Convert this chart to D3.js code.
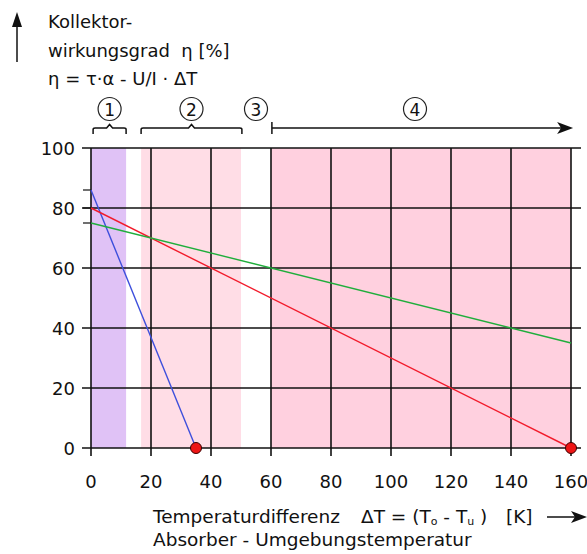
<!DOCTYPE html>
<html>
<head>
<meta charset="utf-8">
<script src="https://cdn.jsdelivr.net/npm/d3@7"></script>
<style>
  html, body { margin: 0; padding: 0; background: #fff; }
  svg text { font-family: "DejaVu Sans", sans-serif; fill: #111; }
</style>
</head>
<body>
<div id="graphicContainer"></div>
<script>
// axis ticks
const xTicks = [0, 20, 40, 60, 80, 100, 120, 140, 160];
const yTicks = [0, 20, 40, 60, 80, 100];

// operating zones (in K)
const zoneStart = [0, 16.7, 60];
const zoneEnd = [11.7, 50, 160];

// collector curves: value at dT=0 and end point
const curveNames = ['unglazed', 'flat', 'tube'];
const curveX0 = [0, 0, 0];
const curveY0 = [86, 80, 75];
const curveX1 = [35, 160, 160];
const curveY1 = [0, 0, 35];

// stagnation points
const stagX = [35, 160];
const stagY = [0, 0];

// zone markers above the plot
const markerLabels = ['1', '2', '3', '4'];
const markerX = [6.2, 33.5, 55, 108];
const braceFrom = [0.7, 16.7];
const braceTo = [11.7, 50.3];
const arrowFrom = 60.3, arrowTo = 160.7;

const zoneColors = ['#e0c2f6', '#ffdde6', '#ffd0df'];
const curveColors = ['#3d4fdc', '#f21c2c', '#1fae3c'];
const gridColor = '#111';

const Width = 587, Height = 554;
const svg = d3.select('#graphicContainer').append('svg')
  .attr('width', Width)
  .attr('height', Height);

const x = d3.scaleLinear().domain([0, 160]).range([91, 571]);
const y = d3.scaleLinear().domain([0, 100]).range([448, 148]);

// zones
svg.append('g').selectAll('rect')
  .data(zoneStart)
  .enter().append('rect')
  .attr('x', d => x(d))
  .attr('y', y(100))
  .attr('width', (d, i) => x(zoneEnd[i]) - x(d))
  .attr('height', y(0) - y(100))
  .attr('fill', (d, i) => zoneColors[i]);

// grid
const grid = svg.append('g');
grid.selectAll('.vl')
  .data(xTicks)
  .enter().append('line')
  .attr('class', 'vl')
  .attr('x1', d => x(d)).attr('x2', d => x(d))
  .attr('y1', y(100)).attr('y2', y(0) + 8)
  .attr('stroke', gridColor).attr('stroke-width', 1.6);
grid.selectAll('.hl')
  .data(yTicks)
  .enter().append('line')
  .attr('class', 'hl')
  .attr('x1', x(0) - 9).attr('x2', x(160) + 10)
  .attr('y1', d => y(d)).attr('y2', d => y(d))
  .attr('stroke', gridColor).attr('stroke-width', 1.6);

// small ticks at the curve intercepts
grid.selectAll('.it')
  .data(curveY0)
  .enter().append('line')
  .attr('x1', x(0) - 8).attr('x2', x(0))
  .attr('y1', d => y(d)).attr('y2', d => y(d))
  .attr('stroke', gridColor).attr('stroke-width', 1.2);

// tick labels
svg.append('g').selectAll('text')
  .data(yTicks)
  .enter().append('text')
  .attr('x', 75)
  .attr('y', d => y(d) + 7)
  .attr('text-anchor', 'end')
  .style('font-size', '18px')
  .text(d => d);
svg.append('g').selectAll('text')
  .data(xTicks)
  .enter().append('text')
  .attr('x', d => x(d))
  .attr('y', 488)
  .attr('text-anchor', 'middle')
  .style('font-size', '18px')
  .text(d => d);

// curves
svg.append('g').selectAll('line')
  .data(curveNames)
  .enter().append('line')
  .attr('x1', (d, i) => x(curveX0[i]))
  .attr('y1', (d, i) => y(curveY0[i]))
  .attr('x2', (d, i) => x(curveX1[i]))
  .attr('y2', (d, i) => y(curveY1[i]))
  .attr('stroke', (d, i) => curveColors[i])
  .attr('stroke-width', 1.4);

// stagnation dots
svg.append('g').selectAll('circle')
  .data(stagX)
  .enter().append('circle')
  .attr('cx', d => x(d))
  .attr('cy', (d, i) => y(stagY[i]))
  .attr('r', 5.5)
  .attr('fill', '#ee1515')
  .attr('stroke', '#3a0000')
  .attr('stroke-width', 1);

// zone markers
const mk = svg.append('g');
mk.selectAll('circle')
  .data(markerLabels)
  .enter().append('circle')
  .attr('cx', (d, i) => x(markerX[i]))
  .attr('cy', 109)
  .attr('r', 11.5)
  .attr('fill', 'none')
  .attr('stroke', '#222')
  .attr('stroke-width', 1.2);
mk.selectAll('text')
  .data(markerLabels)
  .enter().append('text')
  .attr('x', (d, i) => x(markerX[i]))
  .attr('y', 115.5)
  .attr('text-anchor', 'middle')
  .style('font-size', '17px')
  .text(d => d);

// braces
mk.selectAll('path')
  .data(braceFrom)
  .enter().append('path')
  .attr('d', (d, i) => {
    const a = x(d), b = x(braceTo[i]), c = (a + b) / 2;
    return `M${a},134 L${a},129.5 Q${a},128 ${a + 2},128 L${c - 3},128 L${c},124.5 L${c + 3},128 L${b - 2},128 Q${b},128 ${b},129.5 L${b},134`;
  })
  .attr('fill', 'none')
  .attr('stroke', '#111')
  .attr('stroke-width', 1.5);

// zone 4 arrow
mk.append('line')
  .attr('x1', x(arrowFrom)).attr('x2', x(arrowTo) - 6)
  .attr('y1', 128).attr('y2', 128)
  .attr('stroke', '#111').attr('stroke-width', 1.5);
mk.append('line')
  .attr('x1', x(arrowFrom)).attr('x2', x(arrowFrom))
  .attr('y1', 122).attr('y2', 134)
  .attr('stroke', '#111').attr('stroke-width', 1.5);
mk.append('path')
  .attr('d', `M${x(arrowTo) - 16},122 L${x(arrowTo)},128 L${x(arrowTo) - 16},134 L${x(arrowTo) - 12},128 Z`)
  .attr('fill', '#111');

// y axis title
const yt = svg.append('g');
yt.append('line')
  .attr('x1', 17).attr('x2', 17)
  .attr('y1', 22).attr('y2', 62)
  .attr('stroke', '#111').attr('stroke-width', 1.5);
yt.append('path')
  .attr('d', 'M17,12 L22,27 L12,27 Z')
  .attr('fill', '#111');
const titleLines = ['Kollektor-', 'wirkungsgrad  η [%]', 'η = τ·α - U/I · ΔT'];
yt.selectAll('text')
  .data(titleLines)
  .enter().append('text')
  .attr('x', 48)
  .attr('y', (d, i) => 28 + i * 28.5)
  .style('font-size', '18px')
  .attr('xml:space', 'preserve')
  .text(d => d);

// x axis title
const xt = svg.append('g');
const t1 = xt.append('text')
  .attr('y', 523)
  .style('font-size', '18.5px')
  .attr('xml:space', 'preserve');
t1.append('tspan').attr('x', 153).text('Temperaturdifferenz');
t1.append('tspan').attr('x', 361).text('ΔT = (T');
t1.append('tspan').attr('dy', 2).style('font-size', '11px').text('o');
t1.append('tspan').attr('dy', -2).text(' - T');
t1.append('tspan').attr('dy', 2).style('font-size', '11px').text('u');
t1.append('tspan').attr('dy', -2).text(' )');
t1.append('tspan').attr('x', 506).text('[K]');
xt.append('text')
  .attr('x', 153).attr('y', 546)
  .style('font-size', '18.5px')
  .text('Absorber - Umgebungstemperatur');
xt.append('line')
  .attr('x1', 547).attr('x2', 578)
  .attr('y1', 517).attr('y2', 517)
  .attr('stroke', '#111').attr('stroke-width', 1.5);
xt.append('path')
  .attr('d', 'M571,511 L587,517 L571,523 L575,517 Z')
  .attr('fill', '#111');
</script>
</body>
</html>
